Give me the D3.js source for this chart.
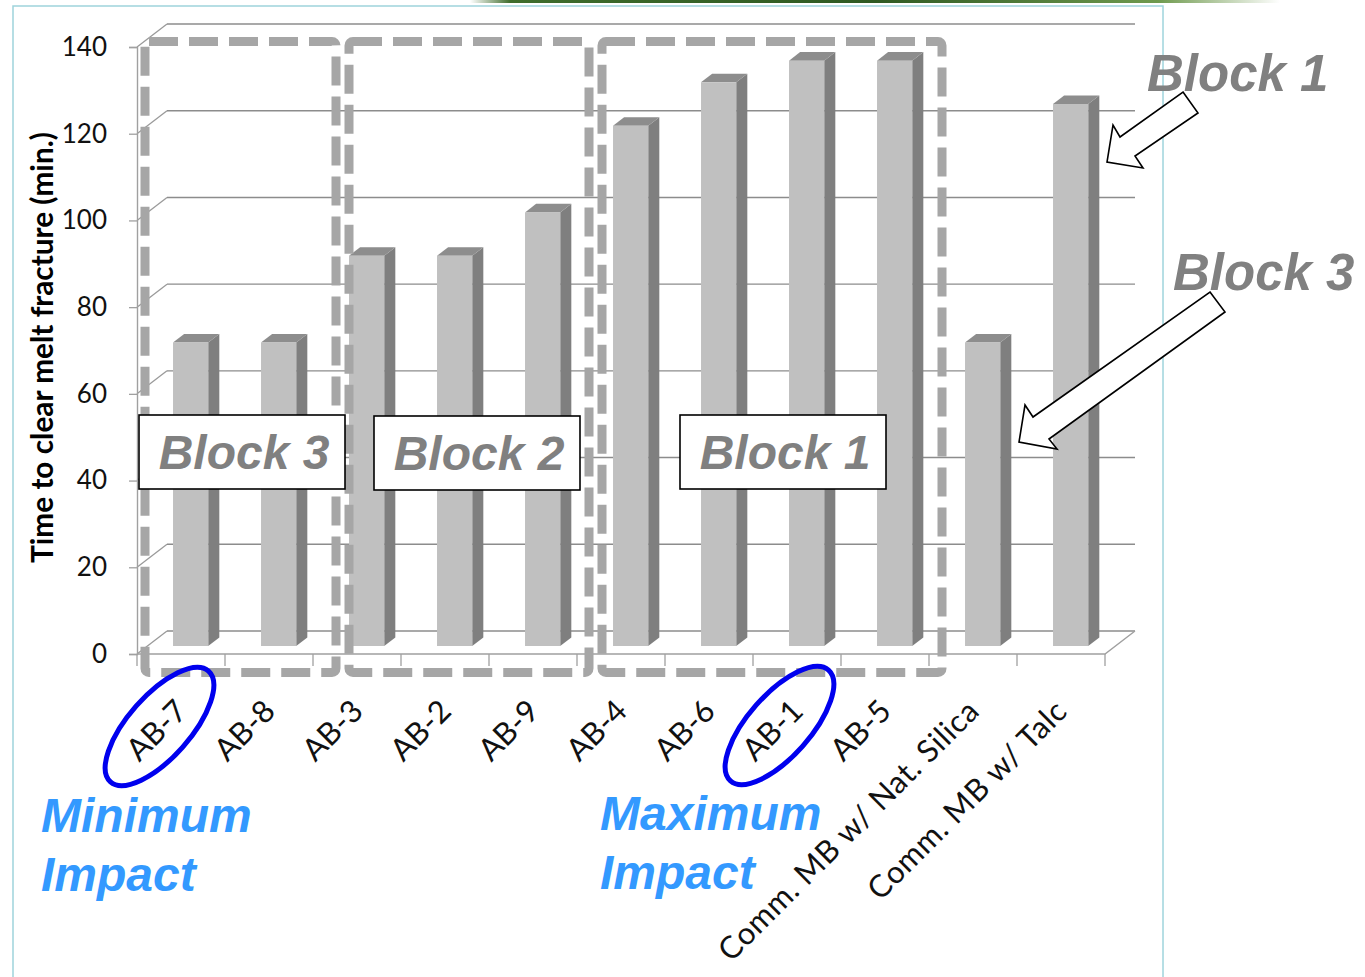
<!DOCTYPE html>
<html>
<head>
<meta charset="utf-8">
<script src="https://cdn.jsdelivr.net/npm/d3@7"></script>
<style>
  html, body { margin: 0; padding: 0; background: #ffffff; }
  svg { display: block; }
</style>
</head>
<body>
<svg id="chart" width="1365" height="977"></svg>
<script>
// Melt-fracture clearing time per masterbatch sample
const categories = ["AB-7", "AB-8", "AB-3", "AB-2", "AB-9", "AB-4", "AB-6", "AB-1", "AB-5",
                    "Comm. MB w/ Nat. Silica", "Comm. MB w/ Talc"];
const values = [70, 70, 90, 90, 100, 120, 130, 135, 135, 70, 125];
const yTicks = [0, 20, 40, 60, 80, 100, 120, 140];
const yTitle = "Time to clear melt fracture (min.)";

// Block groupings (first and last category of each dashed frame)
const blockNames = ["Block 3", "Block 2", "Block 1"];
const blockFirst = ["AB-7", "AB-3", "AB-4"];
const blockLast  = ["AB-8", "AB-9", "AB-5"];
const highlighted = ["AB-7", "AB-1"];

const svg = d3.select("#chart");

// ---- layout ----
const plotLeft = 137, plotRight = 1105;
const depthX = 30, depthY = -23;          // oblique offset of the back wall
const barD0 = 0.35, barD1 = 0.72;         // bar depth span (fraction of floor depth)

const x = d3.scaleBand().domain(categories).range([plotLeft, plotRight]).padding(0);
const y = d3.scaleLinear().domain([0, 140]).range([654, 47]);
const bw = x.bandwidth();

// project a (front-plane x, value, depth fraction) triple to screen
function P(xf, v, d) { return [xf + d * depthX, y(v) + d * depthY]; }
const poly = pts => pts.map(p => p.join(",")).join(" ");

// ---- page frame and header strip ----
const defs = svg.append("defs");
const g1 = defs.append("linearGradient").attr("id", "strip").attr("x1", 0).attr("x2", 1);
[[0, "#ffffff"], [0.05, "#3f6d2c"], [0.5, "#2f5a22"], [0.85, "#6f9a4e"], [1, "#ffffff"]]
  .forEach(([o, c]) => g1.append("stop").attr("offset", o).attr("stop-color", c));
svg.append("rect").attr("x", 470).attr("y", 0).attr("width", 810).attr("height", 3)
  .attr("fill", "url(#strip)");

svg.append("rect").attr("x", 13).attr("y", 6).attr("width", 1150).attr("height", 1000)
  .attr("fill", "none").attr("stroke", "#9fd4dc").attr("stroke-width", 1.5);

// ---- walls, gridlines and floor ----
const grid = svg.append("g").attr("fill", "none");
yTicks.forEach(v => {
  // side-wall diagonal
  grid.append("line")
    .attr("x1", P(plotLeft, v, 0)[0]).attr("y1", P(plotLeft, v, 0)[1])
    .attr("x2", P(plotLeft, v, 1)[0]).attr("y2", P(plotLeft, v, 1)[1])
    .attr("stroke", "#9a9a9a").attr("stroke-width", 1.3);
  // back-wall gridline
  grid.append("line")
    .attr("x1", P(plotLeft, v, 1)[0]).attr("y1", P(plotLeft, v, 1)[1])
    .attr("x2", P(plotRight, v, 1)[0]).attr("y2", P(plotRight, v, 1)[1])
    .attr("stroke", "#8c8c8c").attr("stroke-width", 1.4);
});
// floor front edge and right edge
grid.append("polyline")
  .attr("points", poly([P(plotLeft, 0, 0), P(plotRight, 0, 0), P(plotRight, 0, 1)]))
  .attr("stroke", "#a0a0a0").attr("stroke-width", 1.4);

// category tick marks at band boundaries
const bounds = categories.map(c => x(c)).concat([plotRight]);
grid.selectAll("line.ctick").data(bounds).join("line")
  .attr("class", "ctick")
  .attr("x1", d => d).attr("x2", d => d)
  .attr("y1", y(0)).attr("y2", y(0) + 12)
  .attr("stroke", "#a0a0a0").attr("stroke-width", 1.3);

// ---- value axis ----
const yAxis = d3.axisLeft(y).tickValues(yTicks).tickSize(8).tickPadding(22);
const ya = svg.append("g").attr("transform", `translate(${plotLeft},0)`).call(yAxis);
ya.select(".domain").attr("stroke", "#a0a0a0").attr("stroke-width", 1.4);
ya.selectAll(".tick line").attr("stroke", "#a0a0a0").attr("stroke-width", 1.3);
ya.selectAll(".tick text")
  .attr("font-family", "Lato, 'Open Sans', sans-serif")
  .attr("font-size", 26).attr("fill", "#111");

// axis title, fitted to its length
const title = svg.append("text")
  .attr("transform", "translate(53,347.5) rotate(-90)")
  .attr("text-anchor", "middle")
  .attr("font-family", "Lato, 'Open Sans', sans-serif")
  .attr("font-weight", "bold").attr("font-size", 25).attr("fill", "#000")
  .text(yTitle);
{
  const L = title.node().getComputedTextLength();
  title.attr("font-size", 25 * 431 / L);
}

// ---- 3D bars ----
const data = categories.map((c, i) => ({ c, v: values[i] }));
const bars = svg.append("g").selectAll("g").data(data).join("g");
bars.each(function (d) {
  const g = d3.select(this);
  const l = x(d.c) + bw * 0.29, r = l + bw * 0.4;
  g.append("polygon")       // side face
    .attr("points", poly([P(r, 0, barD0), P(r, 0, barD1), P(r, d.v, barD1), P(r, d.v, barD0)]))
    .attr("fill", "#7f7f7f");
  g.append("polygon")       // top face
    .attr("points", poly([P(l, d.v, barD0), P(r, d.v, barD0), P(r, d.v, barD1), P(l, d.v, barD1)]))
    .attr("fill", "#8d8d8d");
  g.append("polygon")       // front face
    .attr("points", poly([P(l, 0, barD0), P(r, 0, barD0), P(r, d.v, barD0), P(l, d.v, barD0)]))
    .attr("fill", "#c0c0c0");
});

// ---- category labels ----
svg.append("g").selectAll("text").data(categories).join("text")
  .attr("transform", c => `translate(${x(c) + bw / 2 + 8},713) rotate(-45)`)
  .attr("text-anchor", "end")
  .attr("font-family", "Lato, 'Open Sans', sans-serif")
  .attr("font-size", 31).attr("fill", "#111")
  .attr("letter-spacing", c => c.length > 6 ? 0.6 : 0)
  .text(c => c);

// ---- block frames (dashed) ----
const frameTop = 41.5, frameBottom = 672.5;
const frameLeftPad = [8, 36, 25];
const frameRightPad = [23, 12, 13];
const frames = svg.append("g").attr("fill", "none").attr("stroke", "#a6a6a6")
  .attr("stroke-width", 9).attr("stroke-dasharray", "29 11");
blockNames.forEach((name, i) => {
  const x0 = x(blockFirst[i]) + frameLeftPad[i];
  const x1 = x(blockLast[i]) + bw + frameRightPad[i];
  frames.append("rect").attr("x", x0).attr("y", frameTop)
    .attr("width", x1 - x0).attr("height", frameBottom - frameTop).attr("rx", 4);
});

// ---- block name boxes ----
const boxes = [[139, 415], [374, 416], [680, 415]];
const boxW = 206, boxH = 74;
blockNames.forEach((name, i) => {
  const [bx, by] = boxes[i];
  svg.append("rect").attr("x", bx).attr("y", by).attr("width", boxW).attr("height", boxH)
    .attr("fill", "#fff").attr("stroke", "#000").attr("stroke-width", 1.6);
  svg.append("text").attr("x", bx + boxW / 2 + 2).attr("y", by + 54)
    .attr("text-anchor", "middle")
    .attr("font-family", "'Liberation Sans', Arial, sans-serif")
    .attr("font-weight", "bold").attr("font-style", "italic")
    .attr("font-size", 48).attr("fill", "#808080")
    .text(name);
});

// ---- highlight ellipses ----
const ellipseCentres = { "AB-7": [159.5, 726.5], "AB-1": [779.5, 725.5] };
highlighted.forEach(c => {
  const [cx, cy] = ellipseCentres[c];
  svg.append("ellipse")
    .attr("transform", `translate(${cx},${cy}) rotate(-48.5)`)
    .attr("rx", 74).attr("ry", 31)
    .attr("fill", "none").attr("stroke", "#0000ee").attr("stroke-width", 5);
});

// ---- impact notes ----
const notes = [["Minimum", "Impact", 41, 832], ["Maximum", "Impact", 600, 830]];
notes.forEach(([a, b, nx, ny]) => {
  const t = svg.append("text")
    .attr("font-family", "'Liberation Sans', Arial, sans-serif")
    .attr("font-weight", "bold").attr("font-style", "italic")
    .attr("font-size", 48).attr("fill", "#3399ff");
  t.append("tspan").attr("x", nx).attr("y", ny).text(a);
  t.append("tspan").attr("x", nx).attr("y", ny + 59).text(b);
});

// ---- side call-outs with block arrows ----
const callouts = [
  { text: "Block 1", tx: 1147, ty: 91,
    arrow: [[1183, 92], [1198, 113], [1135, 156], [1143, 168], [1107, 162], [1113, 125], [1120, 137]] },
  { text: "Block 3", tx: 1173, ty: 290,
    arrow: [[1210, 292], [1225, 312], [1049, 439], [1057, 449], [1019, 442], [1025, 405], [1033, 417]] }
];
callouts.forEach(co => {
  svg.append("polygon").attr("points", poly(co.arrow))
    .attr("fill", "#fff").attr("stroke", "#000").attr("stroke-width", 1.6)
    .attr("stroke-linejoin", "miter");
  svg.append("text").attr("x", co.tx).attr("y", co.ty)
    .attr("font-family", "'Liberation Sans', Arial, sans-serif")
    .attr("font-weight", "bold").attr("font-style", "italic")
    .attr("font-size", 51).attr("fill", "#808080")
    .text(co.text);
});
</script>
</body>
</html>
